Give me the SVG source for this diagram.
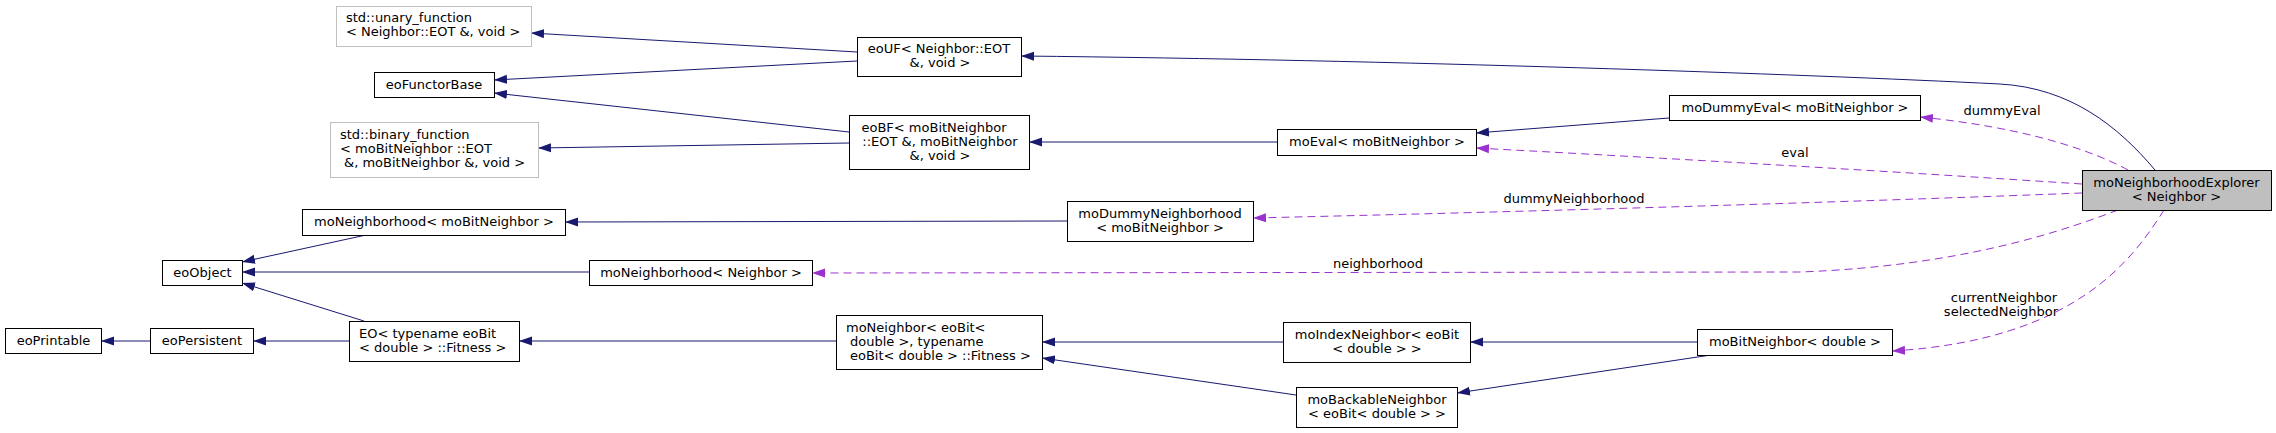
<svg xmlns="http://www.w3.org/2000/svg" width="2276" height="433" viewBox="0 0 2276 433">
<style>
.t{font-family:"DejaVu Sans","Liberation Sans",sans-serif;font-size:13px;fill:#000}
.m{text-anchor:middle}
.b{fill:#fff;stroke:#000;stroke-width:1}
.g{fill:#fff;stroke:#bfbfbf;stroke-width:1}
.f{fill:#bfbfbf;stroke:#000;stroke-width:1}
.e{fill:none;stroke:#191970;stroke-width:1;marker-end:url(#an)}
.d{fill:none;stroke:#9a32cd;stroke-width:1;stroke-dasharray:8,5;marker-end:url(#ap)}
</style>
<defs>
<marker id="an" markerUnits="userSpaceOnUse" markerWidth="14" markerHeight="10" refX="13" refY="5" orient="auto"><path d="M0,0.5 L13,5 L0,9.5 z" fill="#191970"/></marker>
<marker id="ap" markerUnits="userSpaceOnUse" markerWidth="14" markerHeight="10" refX="13" refY="5" orient="auto"><path d="M0,0.5 L13,5 L0,9.5 z" fill="#9a32cd"/></marker>
</defs>
<rect width="2276" height="433" fill="#fff"/>
<g id="connectors">
<path class="e" d="M857,52 L531,33"/>
<path class="e" d="M857,61 L494,80"/>
<path class="e" d="M849,132 L494,93"/>
<path class="e" d="M849,143 L538,148"/>
<path class="e" d="M1277,142 L1029,142"/>
<path class="e" d="M1669,118 L1476,133"/>
<path class="e" d="M2155,170 C2118,126 2070,88 2000,84 C1800,74 1400,60 1021,56"/>
<path class="e" d="M366,235 L242,262"/>
<path class="e" d="M589,272 L242,272"/>
<path class="e" d="M364,321 L242,283"/>
<path class="e" d="M150,341 L101,341"/>
<path class="e" d="M349,341 L253,341"/>
<path class="e" d="M836,341 L519,341"/>
<path class="e" d="M1067,221 L565,222"/>
<path class="e" d="M1283,342 L1042,342"/>
<path class="e" d="M1296,395 L1042,358"/>
<path class="e" d="M1697,342 L1470,342"/>
<path class="e" d="M1711,355 L1457,393"/>
<path class="d" d="M2128,170 C2095,152 2030,128 1920,117"/>
<path class="d" d="M2082,184 C1900,172 1700,160 1476,148"/>
<path class="d" d="M2082,193 C1900,200 1600,210 1253,218"/>
<path class="d" d="M2118,210 C2060,232 1960,266 1800,272 L812,273"/>
<path class="d" d="M2164,210 C2135,255 2080,340 1892,351"/>
<text class="t m" x="2002" y="115">dummyEval</text>
<text class="t m" x="1795" y="157">eval</text>
<text class="t m" x="1574" y="203">dummyNeighborhood</text>
<text class="t m" x="1378" y="268">neighborhood</text>
<text class="t m" x="2004" y="302">currentNeighbor</text>
<text class="t m" x="2001" y="316">selectedNeighbor</text>
</g>
<g id="n_explorer"><rect class="f" x="2082.5" y="170.5" width="189" height="40"/><text class="t m" x="2176.5" y="186.5">moNeighborhoodExplorer</text><text class="t m" x="2176.5" y="200.5">&lt; Neighbor &gt;</text></g>
<g id="n_unary"><rect class="g" x="336.5" y="6.5" width="195" height="40"/><text class="t" x="346" y="22">std::unary_function</text><text class="t" x="346" y="36">&lt; Neighbor::EOT &amp;, void &gt;</text></g>
<g id="n_functor"><rect class="b" x="374.5" y="72.5" width="120" height="25"/><text class="t m" x="434" y="88.5">eoFunctorBase</text></g>
<g id="n_binary"><rect class="g" x="330.5" y="122.5" width="208" height="55"/><text class="t" x="340" y="139">std::binary_function</text><text class="t" x="340" y="153">&lt; moBitNeighbor ::EOT</text><text class="t" x="344" y="167">&amp;, moBitNeighbor &amp;, void &gt;</text></g>
<g id="n_eoUF"><rect class="b" x="857.5" y="37.5" width="164" height="39"/><text class="t m" x="939" y="53">eoUF&lt; Neighbor::EOT</text><text class="t m" x="940" y="67">&amp;, void &gt;</text></g>
<g id="n_eoBF"><rect class="b" x="849.5" y="115.5" width="180" height="54"/><text class="t m" x="934" y="131.5">eoBF&lt; moBitNeighbor</text><text class="t m" x="940" y="145.5">::EOT &amp;, moBitNeighbor</text><text class="t m" x="940" y="159.5">&amp;, void &gt;</text></g>
<g id="n_moEval"><rect class="b" x="1277.5" y="129.5" width="199" height="26"/><text class="t m" x="1377" y="146">moEval&lt; moBitNeighbor &gt;</text></g>
<g id="n_dummyEval"><rect class="b" x="1669.5" y="95.5" width="251" height="25"/><text class="t m" x="1795" y="111.5">moDummyEval&lt; moBitNeighbor &gt;</text></g>
<g id="n_moNbhBit"><rect class="b" x="302.5" y="209.5" width="263" height="26"/><text class="t m" x="434" y="226">moNeighborhood&lt; moBitNeighbor &gt;</text></g>
<g id="n_eoObject"><rect class="b" x="162.5" y="260.5" width="80" height="25"/><text class="t m" x="202.5" y="276.5">eoObject</text></g>
<g id="n_moNbhN"><rect class="b" x="589.5" y="260.5" width="223" height="25"/><text class="t m" x="701" y="276.5">moNeighborhood&lt; Neighbor &gt;</text></g>
<g id="n_dummyNbh"><rect class="b" x="1067.5" y="201.5" width="186" height="40"/><text class="t m" x="1160" y="217.5">moDummyNeighborhood</text><text class="t m" x="1160" y="231.5">&lt; moBitNeighbor &gt;</text></g>
<g id="n_eoPrintable"><rect class="b" x="5.5" y="328.5" width="96" height="25"/><text class="t m" x="53.5" y="344.5">eoPrintable</text></g>
<g id="n_eoPersistent"><rect class="b" x="150.5" y="328.5" width="103" height="25"/><text class="t m" x="202" y="344.5">eoPersistent</text></g>
<g id="n_EO"><rect class="b" x="349.5" y="321.5" width="170" height="40"/><text class="t" x="359" y="337.5">EO&lt; typename eoBit</text><text class="t" x="359" y="351.5">&lt; double &gt; ::Fitness &gt;</text></g>
<g id="n_moNeighbor"><rect class="b" x="836.5" y="315.5" width="206" height="54"/><text class="t" x="846" y="331.5">moNeighbor&lt; eoBit&lt;</text><text class="t" x="850" y="345.5">double &gt;, typename</text><text class="t" x="850" y="359.5">eoBit&lt; double &gt; ::Fitness &gt;</text></g>
<g id="n_moIndex"><rect class="b" x="1283.5" y="322.5" width="187" height="40"/><text class="t m" x="1377" y="338.5">moIndexNeighbor&lt; eoBit</text><text class="t m" x="1377" y="352.5">&lt; double &gt; &gt;</text></g>
<g id="n_moBackable"><rect class="b" x="1296.5" y="387.5" width="161" height="40"/><text class="t m" x="1377" y="403.5">moBackableNeighbor</text><text class="t m" x="1377" y="417.5">&lt; eoBit&lt; double &gt; &gt;</text></g>
<g id="n_moBitNeighbor"><rect class="b" x="1697.5" y="329.5" width="195" height="26"/><text class="t m" x="1795" y="346">moBitNeighbor&lt; double &gt;</text></g>
</svg>
